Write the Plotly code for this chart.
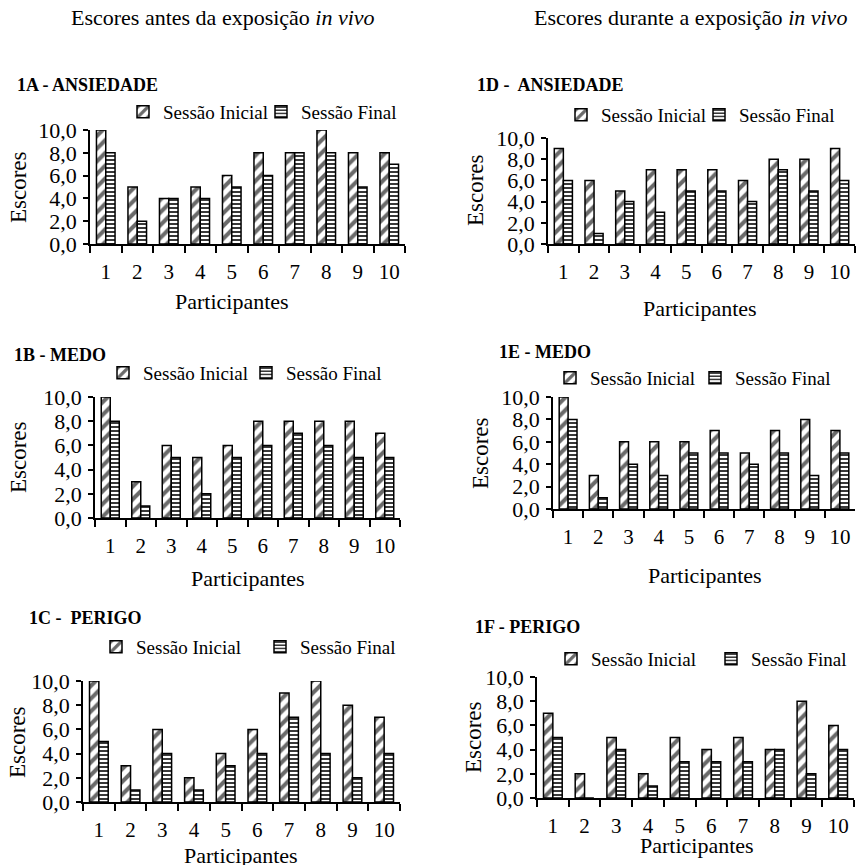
import plotly.graph_objects as go

# Participant labels (x categories)
participantes = [str(i) for i in range(1, 11)]

# Scores before in vivo exposure
ansiedade_antes_inicial = [10, 5, 4, 5, 6, 8, 8, 10, 8, 8]
ansiedade_antes_final = [8, 2, 4, 4, 5, 6, 8, 8, 5, 7]
medo_antes_inicial = [10, 3, 6, 5, 6, 8, 8, 8, 8, 7]
medo_antes_final = [8, 1, 5, 2, 5, 6, 7, 6, 5, 5]
perigo_antes_inicial = [10, 3, 6, 2, 4, 6, 9, 10, 8, 7]
perigo_antes_final = [5, 1, 4, 1, 3, 4, 7, 4, 2, 4]

# Scores during in vivo exposure
ansiedade_durante_inicial = [9, 6, 5, 7, 7, 7, 6, 8, 8, 9]
ansiedade_durante_final = [6, 1, 4, 3, 5, 5, 4, 7, 5, 6]
medo_durante_inicial = [10, 3, 6, 6, 6, 7, 5, 7, 8, 7]
medo_durante_final = [8, 1, 4, 3, 5, 5, 4, 5, 3, 5]
perigo_durante_inicial = [7, 2, 5, 2, 5, 4, 5, 4, 8, 6]
perigo_durante_final = [5, 0, 4, 1, 3, 3, 3, 4, 2, 4]

y_ticks = [0, 2, 4, 6, 8, 10]

W, H = 857, 865
SERIF = "Liberation Serif"


def px_x(v):
    return v / W


def px_y(v):
    return 1 - v / H


# Panel geometry in pixels: plot box, title, legend text starts and row,
# axis title centres
panels = [
    dict(title="1A - ANSIEDADE", ini=ansiedade_antes_inicial, fin=ansiedade_antes_final,
         box=(90, 405, 244, 130), tpos=(15, 85), leg=(160, 298, 112),
         ylab=(18, 187), xlab=(232, 302)),
    dict(title="1B - MEDO", ini=medo_antes_inicial, fin=medo_antes_final,
         box=(95, 400, 518, 397), tpos=(12, 355), leg=(140, 283, 373),
         ylab=(18, 457), xlab=(248, 578)),
    dict(title="1C -\u00a0 PERIGO", ini=perigo_antes_inicial, fin=perigo_antes_final,
         box=(83, 400, 802, 681), tpos=(27, 618), leg=(133, 297, 647),
         ylab=(17, 742), xlab=(241, 855)),
    dict(title="1D -\u00a0 ANSIEDADE", ini=ansiedade_durante_inicial, fin=ansiedade_durante_final,
         box=(548, 855, 244, 138), tpos=(475, 85), leg=(598, 736, 115),
         ylab=(475, 190), xlab=(700, 308)),
    dict(title="1E - MEDO", ini=medo_durante_inicial, fin=medo_durante_final,
         box=(553, 855, 509, 397), tpos=(497, 352), leg=(587, 732, 378),
         ylab=(480, 453), xlab=(705, 575)),
    dict(title="1F - PERIGO", ini=perigo_durante_inicial, fin=perigo_durante_final,
         box=(537, 854, 798, 677), tpos=(473, 627), leg=(588, 748, 659),
         ylab=(473, 737), xlab=(697, 845)),
]

INICIAL_MARKER = dict(color="white", line=dict(color="black", width=1.5),
                      pattern=dict(shape="/", fgcolor="#6a6a6a", bgcolor="white",
                                   size=9, solidity=0.45))
FINAL_MARKER = dict(color="white", line=dict(color="black", width=1.5),
                    pattern=dict(shape="-", fgcolor="#222222", bgcolor="white",
                                 size=4, solidity=0.45))

fig = go.Figure()
annotations = []
layout_axes = {}
legends = {}
leg_count = 0


def new_legend(text_x, row_y):
    """One legend per entry so every label sits at its own spot."""
    global leg_count
    leg_count += 1
    name = "legend" if leg_count == 1 else f"legend{leg_count}"
    legends[name] = dict(
        x=px_x(text_x - 37), y=px_y(row_y), xanchor="left", yanchor="middle",
        orientation="h", bgcolor="rgba(0,0,0,0)", borderwidth=0,
        itemclick=False, font=dict(family=SERIF, size=19, color="black"),
    )
    return name


for i, p in enumerate(panels):
    n = i + 1
    xa = "x" if n == 1 else f"x{n}"
    ya = "y" if n == 1 else f"y{n}"
    t1, t2, ly = p["leg"]

    fig.add_trace(go.Bar(
        x=participantes, y=p["ini"], name="Sessão Inicial",
        xaxis=xa, yaxis=ya, legend=new_legend(t1, ly), marker=INICIAL_MARKER,
    ))
    fig.add_trace(go.Bar(
        x=participantes, y=p["fin"], name="Sessão Final",
        xaxis=xa, yaxis=ya, legend=new_legend(t2, ly), marker=FINAL_MARKER,
    ))

    x0, x1, yb, yt = p["box"]
    xkey = "xaxis" if n == 1 else f"xaxis{n}"
    ykey = "yaxis" if n == 1 else f"yaxis{n}"
    layout_axes[xkey] = dict(
        domain=[px_x(x0), px_x(x1)], anchor=ya, type="category",
        categoryorder="array", categoryarray=participantes,
        range=[-0.5, 9.5], tickson="boundaries", ticks="outside", ticklen=7,
        tickwidth=1.5, tickcolor="black", showline=True, linecolor="black",
        linewidth=1.5, showgrid=False, zeroline=False, automargin=False,
        ticklabelstandoff=8, tickangle=0,
        tickfont=dict(family=SERIF, size=21, color="black"),
    )
    layout_axes[ykey] = dict(
        domain=[px_y(yb), px_y(yt)], anchor=xa, range=[0, 10],
        tickvals=y_ticks, tickformat=".1f", ticks="outside", ticklen=5,
        tickwidth=1.5, tickcolor="black", showline=True, linecolor="black",
        linewidth=1.5, showgrid=False, zeroline=False, automargin=False,
        ticklabelstandoff=2,
        tickfont=dict(family=SERIF, size=22, color="black"),
    )

    tx, ty = p["tpos"]
    annotations.append(dict(
        text=f"<b>{p['title']}</b>", x=px_x(tx), y=px_y(ty),
        xref="paper", yref="paper", xanchor="left", yanchor="middle",
        showarrow=False, font=dict(family=SERIF, size=18, color="black"),
    ))
    yx, yy = p["ylab"]
    annotations.append(dict(
        text="Escores", x=px_x(yx), y=px_y(yy), xref="paper", yref="paper",
        xanchor="center", yanchor="middle", textangle=-90, showarrow=False,
        font=dict(family=SERIF, size=23, color="black"),
    ))
    xx, xy = p["xlab"]
    annotations.append(dict(
        text="Participantes", x=px_x(xx), y=px_y(xy), xref="paper", yref="paper",
        xanchor="center", yanchor="middle", showarrow=False,
        font=dict(family=SERIF, size=22, color="black"),
    ))

# Column headers
annotations.append(dict(
    text="Escores antes da exposição <i>in vivo</i>", x=px_x(223), y=px_y(18),
    xref="paper", yref="paper", xanchor="center", yanchor="middle",
    showarrow=False, font=dict(family=SERIF, size=22, color="black"),
))
annotations.append(dict(
    text="Escores durante a exposição <i>in vivo</i>", x=px_x(690), y=px_y(18),
    xref="paper", yref="paper", xanchor="center", yanchor="middle",
    showarrow=False, font=dict(family=SERIF, size=22, color="black"),
))

fig.update_layout(
    width=W, height=H,
    margin=dict(l=0, r=0, t=0, b=0),
    template="none",
    font=dict(family=SERIF, color="black"),
    paper_bgcolor="white", plot_bgcolor="white",
    barmode="group", bargap=0.41, bargroupgap=0,
    separators=",.",
    showlegend=True,
    annotations=annotations,
    **legends,
    **layout_axes,
)

fig.write_html("out.html")
